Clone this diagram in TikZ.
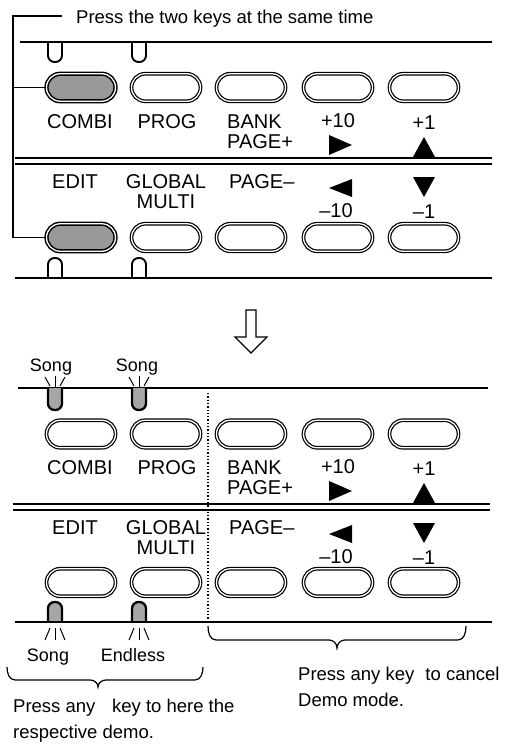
\documentclass[tikz,border=0pt]{standalone}
\usepackage{fontspec}
\setmainfont{Liberation Sans}
\usetikzlibrary{shapes.misc}
\newcommand\mylab{\fontsize{20}{20}\selectfont}
\newcommand\mycap{\fontsize{18.5}{18.5}\selectfont}
\newcommand\mysong{\fontsize{18}{18}\selectfont}
\begin{document}
\begin{tikzpicture}[x=1pt,y=-1pt,
 keybox/.style={rounded rectangle, draw, line width=1.2pt, double, double distance=1.3pt, minimum width=69pt, minimum height=27.5pt, inner sep=0},
 presskey/.style={keybox, fill=black!40, line width=1.5pt},
 lab/.style={font=\mylab, inner sep=0, anchor=base},
 labw/.style={lab, anchor=base west},
 captext/.style={font=\mycap, inner sep=0, anchor=base west},
 songtext/.style={font=\mysong, inner sep=0, anchor=base},
 panel/.style={line width=2.3pt},
 thinl/.style={line width=1.2pt},
 led/.style={line width=1.9pt, rounded corners=6.5pt},
 litled/.style={line width=2.3pt, fill=black!35, rounded corners=6.5pt},
 ray/.style={line width=1pt},
 tri/.style={fill=black},
 bracepath/.style={line width=1.2pt}
]
\useasboundingbox (0,0) rectangle (508,747);

% ================= top diagram =================
\coordinate (c0) at (13,16);
\coordinate (c1) at (62,16);
\node[captext] (capt) at (76,23) {Press the two keys at the same time};

\node[presskey] (k1) at (81,87.5) {};
\foreach \i/\x in {2/166,3/251,4/338,5/424}
  \node[keybox] (k\i) at (\x,87.5) {};
\node[presskey] (k6) at (81,237.5) {};
\foreach \i/\x in {7/166,8/251,9/338,10/424}
  \node[keybox] (k\i) at (\x,237.5) {};

\draw[thinl] (c1) -- (c0) |- (k1.west);
\draw[thinl] (c0) |- (k6.west);

\draw[panel] (20,42) -- (492,42);
\draw[led] (48,42.5) -- (48,62) -- (62,62) -- (62,42.5);
\draw[led] (132,42.5) -- (132,62) -- (146,62) -- (146,42.5);

\node[lab] (l1) at (80,128) {COMBI};
\node[lab] (l2) at (167,128) {PROG};
\node[labw] (l3) at (227,128) {BANK};
\node[labw] (l3b) at (227,148) {PAGE+};
\node[lab] (l4) at (338,127) {+10};
\node[lab] (l5) at (424,129) {+1};
\fill[tri] (329,135) -- (352,145) -- (329,155) -- cycle;
\fill[tri] (413,157) -- (424,137) -- (435,157) -- cycle;

\draw[line width=2pt] (15,158) -- (492,158);
\draw[line width=2pt] (15,164) -- (492,164);

\node[lab] (l6) at (75,188) {EDIT};
\node[lab] (l7) at (166,188) {GLOBAL};
\node[lab] (l7b) at (166,208) {MULTI};
\node[labw] (l8) at (229,188) {PAGE–};
\fill[tri] (352,179) -- (329,188) -- (352,197) -- cycle;
\node[lab] (l9) at (336,217) {–10};
\fill[tri] (413,177) -- (435,177) -- (424,197) -- cycle;
\node[lab] (l10) at (424,218) {–1};

\draw[led] (48,277.5) -- (48,258) -- (62,258) -- (62,277.5);
\draw[led] (132,277.5) -- (132,258) -- (146,258) -- (146,277.5);
\draw[panel] (15,278) -- (492,278);

% ================= arrow =================
\draw[line width=1.2pt, line join=miter] (246,310) -- (256,310) -- (256,337) -- (267,337) -- (251,353) -- (235,337) -- (246,337) -- cycle;

% ================= bottom diagram =================
\node[songtext] (s1) at (51,371) {Song};
\node[songtext] (s2) at (137,371) {Song};
\foreach \c in {55,139}{
  \draw[ray] (\c,376) -- (\c,387);
  \draw[ray] (\c-10,377) -- (\c-5,386);
  \draw[ray] (\c+10,377) -- (\c+5,386);
}
\draw[panel] (18,388) -- (488,388);
\draw[litled] (48,388) -- (48,410) -- (62,410) -- (62,388);
\draw[litled] (132,388) -- (132,410) -- (146,410) -- (146,388);

\draw[line width=1.3pt, dash pattern=on 1.3pt off 2pt] (208,393) -- (208,622);

\foreach \i/\x in {1/81,2/166,3/251,4/338,5/424}
  \node[keybox] (m\i) at (\x,434) {};
\foreach \i/\x in {6/81,7/166,8/251,9/338,10/424}
  \node[keybox] (m\i) at (\x,582.5) {};

\node[lab] (n1) at (80,474) {COMBI};
\node[lab] (n2) at (167,474) {PROG};
\node[labw] (n3) at (227,474) {BANK};
\node[labw] (n3b) at (227,494) {PAGE+};
\node[lab] (n4) at (338,473) {+10};
\node[lab] (n5) at (424,475) {+1};
\fill[tri] (329,481) -- (352,491) -- (329,501) -- cycle;
\fill[tri] (413,503) -- (424,483) -- (435,503) -- cycle;

\draw[line width=2pt] (13,504) -- (490,504);
\draw[line width=2pt] (13,510) -- (490,510);

\node[lab] (n6) at (75,534) {EDIT};
\node[lab] (n7) at (166,534) {GLOBAL};
\node[lab] (n7b) at (166,554) {MULTI};
\node[labw] (n8) at (229,534) {PAGE–};
\fill[tri] (352,525) -- (329,534) -- (352,543) -- cycle;
\node[lab] (n9) at (336,563) {–10};
\fill[tri] (413,523) -- (435,523) -- (424,543) -- cycle;
\node[lab] (n10) at (424,564) {–1};

\draw[litled] (48,622) -- (48,602) -- (62,602) -- (62,622);
\draw[litled] (132,622) -- (132,602) -- (146,602) -- (146,622);
\draw[panel] (15,622) -- (492,622);
\foreach \c in {55,139}{
  \draw[ray] (\c,628) -- (\c,640);
  \draw[ray] (\c-5,628) -- (\c-10,640);
  \draw[ray] (\c+5,628) -- (\c+10,640);
}
\node[songtext] (s3) at (48,661) {Song};
\node[songtext] (s4) at (133,661) {Endless};

% braces
\draw[bracepath] (7,667) to[out=-90,in=180] (15,680) -- (90,680) to[out=0,in=90] (98,687) to[out=90,in=180] (106,680) -- (195,680) to[out=0,in=-90] (203,667);
\draw[bracepath] (208,626) to[out=-90,in=180] (216,640) -- (329,640) to[out=0,in=90] (337,648) to[out=90,in=180] (345,640) -- (458,640) to[out=0,in=-90] (466,626);

\node[captext] (t1) at (13,712) {Press any\hspace{0.9em}key to here the};
\node[captext] (t2) at (13,738) {respective demo.};
\node[captext] (t3) at (298,680) {Press any key\hspace{0.6em}to cancel};
\node[captext] (t4) at (298,706) {Demo mode.};
\draw[line width=0.8pt] (391,704) -- (397,699);
\end{tikzpicture}
\end{document}
